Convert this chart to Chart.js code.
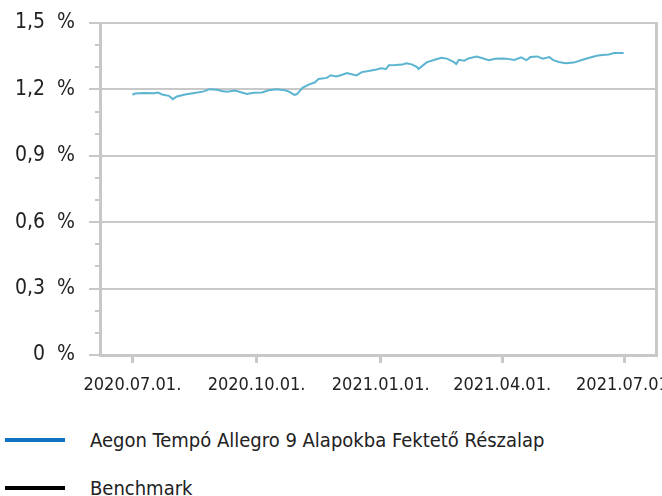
<!DOCTYPE html>
<html>
<head>
<meta charset="utf-8">
<script src="https://cdn.jsdelivr.net/npm/chart.js@4.4.1/dist/chart.umd.min.js"></script>
<style>
    body { margin: 0; background: #fff; font-family: "DejaVu Sans Condensed", sans-serif; color: #222; }
    #wrap { position: relative; width: 662px; height: 400px; }
    #legend { position: relative; width: 662px; height: 96px; }
    .row { position: absolute; left: 0; height: 24px; }
    .swatch { position: absolute; left: 5px; width: 60px; height: 4px; }
    .label { position: absolute; left: 90px; white-space: nowrap; font-size: 20px; line-height: 24px; }
</style>
</head>
<body>
<div id="wrap"><canvas id="chart"></canvas></div>
<div id="legend"></div>

<script>
// Days counted from 2020.07.01.
const fundDays = [
    0, 2, 9, 16, 19, 22, 27, 30, 33, 39,
    46, 53, 57, 63, 66, 70, 76, 81, 85, 90,
    96, 101, 107, 113, 116, 120, 122, 126, 131, 135,
    138, 144, 147, 151, 155, 159, 166, 170, 175, 181,
    184, 188, 190, 195, 200, 203, 207, 211, 212, 218,
    224, 229, 233, 238, 240, 242, 246, 249, 255, 259,
    264, 269, 274, 277, 283, 288, 292, 295, 300, 304,
    309, 312, 316, 321, 327, 333, 338, 344, 348, 353,
    357, 361, 364
];
const fundValues = [
    1.176, 1.181, 1.184, 1.183, 1.186, 1.177, 1.171, 1.156, 1.168, 1.177,
    1.184, 1.191, 1.201, 1.198, 1.193, 1.189, 1.195, 1.186, 1.179, 1.185,
    1.186, 1.196, 1.201, 1.196, 1.190, 1.175, 1.179, 1.207, 1.223, 1.231,
    1.247, 1.252, 1.264, 1.258, 1.265, 1.274, 1.263, 1.278, 1.283, 1.290,
    1.295, 1.292, 1.309, 1.310, 1.312, 1.318, 1.313, 1.301, 1.292, 1.322,
    1.334, 1.343, 1.339, 1.324, 1.315, 1.334, 1.330, 1.340, 1.348, 1.342,
    1.332, 1.338, 1.340, 1.339, 1.333, 1.345, 1.332, 1.346, 1.349, 1.339,
    1.346, 1.332, 1.324, 1.318, 1.321, 1.333, 1.342, 1.352, 1.355, 1.358,
    1.364, 1.365, 1.364
];
const benchmarkValues = [];

const seriesNames = ['Aegon Tempó Allegro 9 Alapokba Fektető Részalap', 'Benchmark'];
const legendColors = ['#1172c4', '#000000'];

const xTickDays = [0, 92, 184, 274, 365];
const xTickLabels = ['2020.07.01.', '2020.10.01.', '2021.01.01.', '2021.04.01.', '2021.07.01.'];
const yTicks = [0, 0.3, 0.6, 0.9, 1.2, 1.5];
const yMinorTicks = [0.1, 0.2, 0.4, 0.5, 0.7, 0.8, 1.0, 1.1, 1.3, 1.4];

const AXIS_GRAY = '#c8c8c8';
const FONT_FAMILY = '"DejaVu Sans Condensed", sans-serif';

// short ticks between the labelled ones on the value axis
const minorTicks = {
    id: 'minorTicks',
    afterDraw(chart) {
        const y = chart.scales.y;
        const ctx = chart.ctx;
        ctx.save();
        ctx.strokeStyle = AXIS_GRAY;
        ctx.lineWidth = 2;
        yMinorTicks.forEach(v => {
            const py = Math.round(y.getPixelForValue(v));
            ctx.beginPath();
            ctx.moveTo(y.right - 5, py);
            ctx.lineTo(y.right, py);
            ctx.stroke();
        });
        ctx.restore();
    }
};

function fmtPercent(v) {
    if (Math.abs(v) < 1e-9) return '0  %';
    return v.toFixed(1).replace('.', ',') + '  %';
}

new Chart(document.getElementById('chart'), {
    type: 'line',
    data: {
        datasets: [
            {
                label: seriesNames[0],
                data: fundDays.map((d, i) => ({ x: d, y: fundValues[i] })),
                borderColor: '#5bb4d0',
                borderWidth: 2,
                pointRadius: 0,
                tension: 0
            },
            {
                label: seriesNames[1],
                data: benchmarkValues,
                borderColor: '#000000',
                borderWidth: 2,
                pointRadius: 0
            }
        ]
    },
    options: {
        responsive: true,
        maintainAspectRatio: false,
        animation: false,
        layout: { padding: { top: 23, right: 0, left: 0, bottom: 0 } },
        plugins: {
            legend: { display: false },
            tooltip: { enabled: false }
        },
        scales: {
            x: {
                type: 'linear',
                min: -24,
                max: 388,
                afterBuildTicks: s => { s.ticks = xTickDays.map(v => ({ value: v })); },
                afterFit: s => { s.height = 45; s.paddingRight = 0; s.paddingLeft = 0; },
                ticks: {
                    callback: (v, i) => xTickLabels[i],
                    autoSkip: false,
                    maxRotation: 0,
                    padding: 12,
                    color: '#222',
                    font: { family: FONT_FAMILY, size: 18 }
                },
                grid: { drawOnChartArea: false, tickLength: 8, color: AXIS_GRAY, lineWidth: 3 },
                border: { color: AXIS_GRAY, width: 3 }
            },
            y: {
                min: 0,
                max: 1.5,
                afterBuildTicks: s => { s.ticks = yTicks.map(v => ({ value: v })); },
                afterFit: s => { s.width = 100; s.paddingTop = 0; s.paddingBottom = 0; },
                ticks: {
                    callback: v => fmtPercent(v),
                    padding: 14,
                    color: '#222',
                    font: { family: FONT_FAMILY, size: 21 }
                },
                grid: { color: AXIS_GRAY, lineWidth: 2, tickLength: 11 },
                border: { color: AXIS_GRAY, width: 3 }
            },
            yRight: {
                position: 'right',
                min: 0,
                max: 1.5,
                afterFit: s => { s.width = 6; },
                ticks: { display: false },
                grid: { drawOnChartArea: false, drawTicks: false },
                border: { color: AXIS_GRAY, width: 3 }
            }
        }
    },
    plugins: [minorTicks]
});

// legend below the chart
const legend = document.getElementById('legend');
const rowTops = [28, 76];
seriesNames.forEach((name, i) => {
    const row = document.createElement('div');
    row.className = 'row';
    row.style.top = rowTops[i] + 'px';
    row.innerHTML = `<div class="swatch" style="top:10px;background:${legendColors[i]}"></div><div class="label">${name}</div>`;
    legend.appendChild(row);
});
</script>
</body>
</html>
